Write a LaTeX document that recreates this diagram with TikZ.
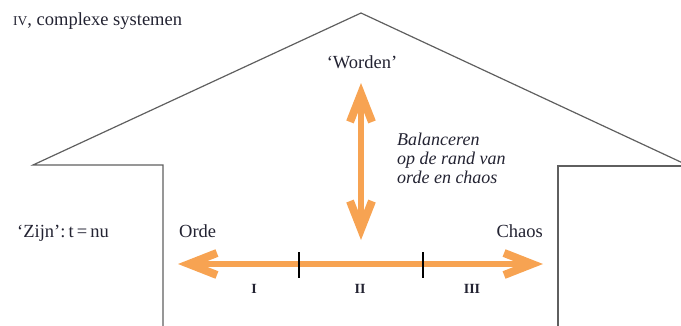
\documentclass[tikz,border=0pt]{standalone}
\usepackage{fontspec}
\setmainfont{Liberation Serif}
\usetikzlibrary{arrows.meta}

\definecolor{ink}{RGB}{35,35,50}
\definecolor{wall}{RGB}{95,95,95}
\definecolor{flow}{RGB}{247,163,82}

\tikzset{
  lbl/.style={text=ink, inner sep=0pt, font=\fontsize{18.5}{21}\selectfont},
  note/.style={lbl, font=\fontsize{18}{19}\selectfont\itshape, align=left},
  roman/.style={lbl, font=\fontsize{14}{14}\selectfont\bfseries},
  outline/.style={draw=wall, line width=1.2pt, line join=miter},
  barb/.tip={Straight Barb[length=28pt, width=22pt, line width=8pt]},
  flowarrow/.style={draw=flow, line width=6.5pt, {barb}-{barb}},
  tick/.style={draw=black, line width=1.1pt}
}

\begin{document}
\begin{tikzpicture}[x=1pt, y=-1pt]
  \useasboundingbox (0,0) rectangle (681,325);
  \clip (0,0) rectangle (681,325);

  % house-shaped outline: walls, eaves and roof
  \draw[outline] (163,330) -- (163,165) -- (33,165) -- (361,13)
                 -- (700,171);
  \draw[outline] (558,330) -- (558,166) -- (700,166);

  % labels
  \node[lbl, anchor=base west] (title) at (13,25)
    {{\fontsize{13.5}{14}\selectfont IV}, complexe systemen};
  \node[lbl, anchor=base] (worden) at (362,68) {‘Worden’};
  \node[note, anchor=north west] (balance) at (397,133)
    {Balanceren\\op de rand van\\orde en chaos};
  \node[lbl, anchor=base west] (zijn) at (17,237) {‘Zijn’:\,t\,=\,nu};
  \node[lbl, anchor=base west] (orde) at (179,237) {Orde};
  \node[lbl, anchor=base east] (chaos) at (543,237) {Chaos};

  \node[roman, anchor=base] (r1) at (254,293) {I};
  \node[roman, anchor=base] (r2) at (360,293) {II};
  \node[roman, anchor=base] (r3) at (472,293) {III};

  % arrow end points and scale ticks
  \coordinate (left)   at (178,264);
  \coordinate (right)  at (543,264);
  \coordinate (top)    at (361,83);
  \coordinate (bottom) at (361,240);
  \coordinate (t1a) at (299,252);
  \coordinate (t1b) at (299,278);
  \coordinate (t2a) at (423,252);
  \coordinate (t2b) at (423,278);

  % axis order -- chaos and vertical becoming/being arrow
  \draw[flowarrow] (left) -- (right);
  \draw[flowarrow] (top) -- (bottom);
  \draw[tick] (t1a) -- (t1b);
  \draw[tick] (t2a) -- (t2b);
\end{tikzpicture}
\end{document}
